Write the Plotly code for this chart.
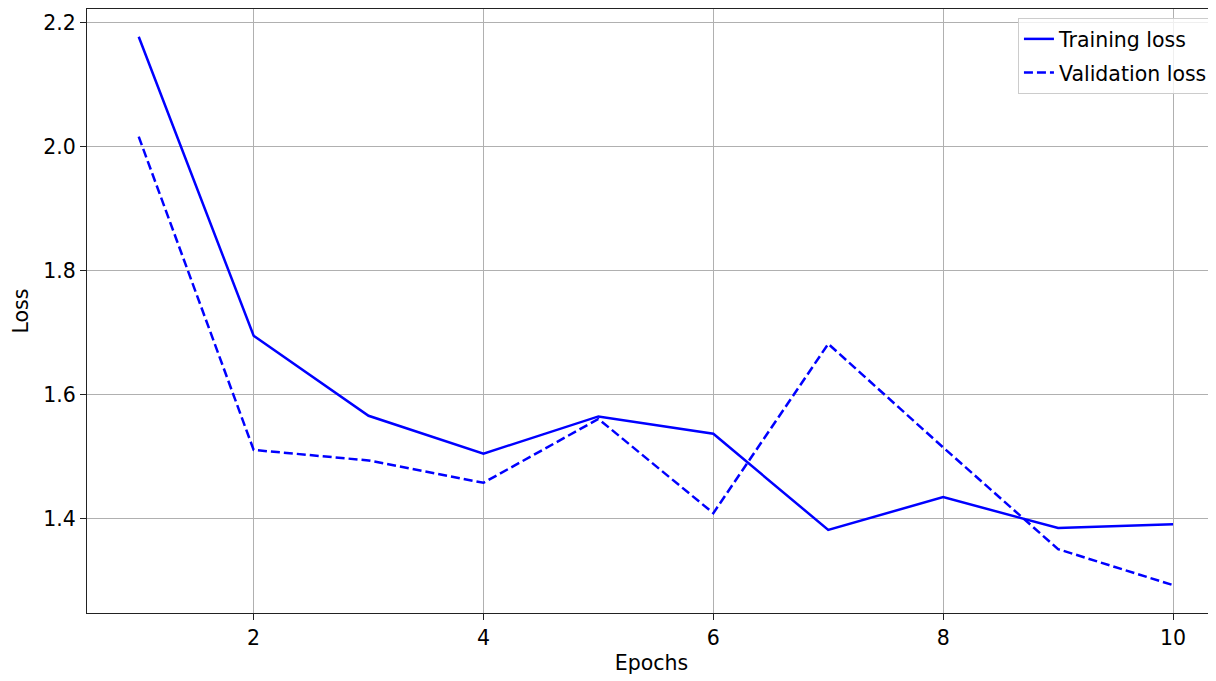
import plotly.graph_objects as go

epochs = [1, 2, 3, 4, 5, 6, 7, 8, 9, 10]
training_loss = [2.177, 1.695, 1.566, 1.505, 1.565, 1.537, 1.382, 1.435, 1.385, 1.391]
validation_loss = [2.016, 1.511, 1.494, 1.458, 1.561, 1.409, 1.682, 1.515, 1.351, 1.293]
x_ticks = [2, 4, 6, 8, 10]
y_ticks = [1.4, 1.6, 1.8, 2.0, 2.2]

FONT = "DejaVu Sans"
FS = 20.5

fig = go.Figure()
fig.add_trace(go.Scatter(x=epochs, y=training_loss, mode="lines", name="Training loss",
                         legendgroup="a", line=dict(color="blue", width=2.5)))
fig.add_trace(go.Scatter(x=epochs, y=validation_loss, mode="lines", name="Validation loss",
                         legendgroup="b", line=dict(color="blue", width=2.5, dash="9px,4px")))

axis_common = dict(
    showgrid=True, gridcolor="#b0b0b0", gridwidth=1.3,
    showline=True, linecolor="#222222", linewidth=1.3,
    ticks="outside", ticklen=6, tickwidth=1.3, tickcolor="#222222",
    tickfont=dict(family=FONT, size=FS, color="#000000"),
    zeroline=False,
)

fig.update_layout(
    width=1208, height=673,
    margin=dict(l=79, r=0, t=1, b=68),
    paper_bgcolor="white", plot_bgcolor="white",
    font=dict(family=FONT, size=FS, color="#000000"),
    xaxis=dict(range=[0.55, 10.374], tickvals=x_ticks, ticktext=[str(v) for v in x_ticks],
               mirror=True,
               title=dict(text="Epochs", font=dict(family=FONT, size=FS), standoff=6),
               **axis_common),
    yaxis=dict(range=[1.2481, 2.2218], tickvals=y_ticks, ticktext=[f"{v:.1f}" for v in y_ticks],
               title=dict(text="Loss", font=dict(family=FONT, size=FS), standoff=8),
               **axis_common),
    legend=dict(x=0.9973, y=0.985, xanchor="right", yanchor="top",
                bgcolor="rgba(255,255,255,0.8)", bordercolor="#cccccc", borderwidth=1,
                font=dict(family=FONT, size=FS), tracegroupgap=4),
    showlegend=True,
)

fig.write_html("out.html")
